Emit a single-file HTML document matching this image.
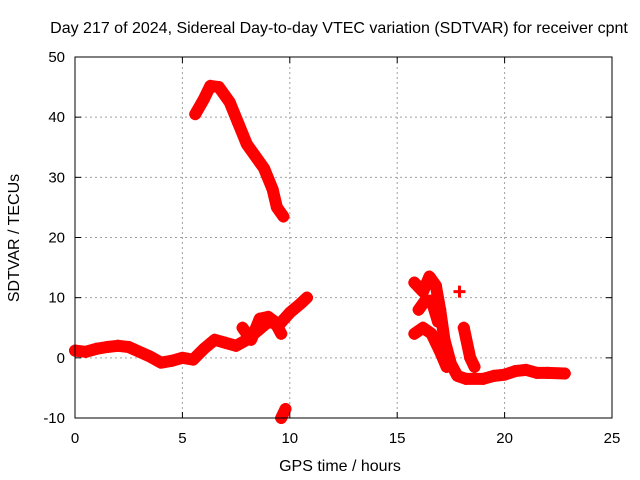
<!DOCTYPE html>
<html><head><meta charset="utf-8"><style>
body{margin:0;background:#fff}
svg{display:block;font-family:"Liberation Sans",sans-serif}
</style></head><body>
<svg id="chart" width="640" height="480" viewBox="0 0 640 480">
<text x="339" y="33" font-size="16" text-anchor="middle">Day 217 of 2024, Sidereal Day-to-day VTEC variation (SDTVAR) for receiver cpnt</text>
<text x="340" y="471" font-size="16" text-anchor="middle">GPS time / hours</text>
<text x="19" y="238" font-size="16" text-anchor="middle" transform="rotate(-90 19 238)">SDTVAR / TECUs</text>
<g id="grid"></g><g id="marks"></g><g id="axes"></g>
</svg>
<script>
const xTicks=[0,5,10,15,20,25];
const yTicks=[-10,0,10,20,30,40,50];
const lowBand=[[0,1.2],[0.5,1.0],[1,1.5],[1.5,1.8],[2,2.0],[2.5,1.8],[3,1.0],[3.5,0.2],[4,-0.8],[4.5,-0.5],[5,0.0],[5.5,-0.3],[6,1.5],[6.5,3.0],[7,2.5],[7.5,2.0],[8,3.0],[8.5,4.5],[9,6.0],[9.5,5.5],[10,7.5],[10.5,9.0],[10.8,10]];
const lowLoop=[[7.8,5],[8.2,3],[8.6,6.5],[9.0,6.8],[9.3,6],[9.6,4]];
const negTrack=[[9.6,-10],[9.8,-8.5]];
const highArc=[[5.6,40.5],[6.0,43],[6.3,45.2],[6.7,45],[7.2,42.5],[7.6,39],[8.0,35.5],[8.4,33.5],[8.8,31.5],[9.2,28],[9.4,25],[9.7,23.5]];
const lateMain=[[15.8,12.5],[16.2,11],[16.5,13.5],[16.8,12],[17.0,8],[17.2,3],[17.5,-1],[17.8,-3],[18.2,-3.5],[19,-3.5],[19.5,-3],[20,-2.8],[20.5,-2.2],[21,-2],[21.5,-2.5],[22,-2.5],[22.8,-2.6]];
const lateLow=[[15.8,4],[16.2,5],[16.6,4],[17.0,1],[17.3,-1.5]];
const lateMid=[[16.0,8],[16.3,9.5],[16.6,9.5],[16.9,6]];
const lateRight=[[18.1,5],[18.4,0],[18.6,-1.5]];
const lateDot=[[17.9,11]];
const series=[lowBand,lowLoop,negTrack,highArc,lateMain,lateLow,lateMid,lateRight,lateDot];
const L=75,R=612,T=57,B=418;
const sx=v=>L+(v-0)/(25-0)*(R-L);
const sy=v=>B-(v+10)/(50+10)*(B-T);
const NS="http://www.w3.org/2000/svg";
function mk(t,a,p){const e=document.createElementNS(NS,t);for(const k in a)e.setAttribute(k,a[k]);p.appendChild(e);return e;}
const grid=document.getElementById('grid'),axes=document.getElementById('axes'),marks=document.getElementById('marks');
xTicks.forEach(v=>{const x=sx(v);
 if(v>0&&v<25){const g=mk('line',{x1:x,x2:x,y1:T,y2:B,stroke:'#a0a0a0','stroke-dasharray':'2,3'},grid);
 }
 const t=mk('line',{x1:x,x2:x,y1:B,y2:B-6,stroke:'#000'},axes);
 
 const tb=mk('line',{x1:x,x2:x,y1:T,y2:T+6,stroke:'#000'},axes);
 
 const l=mk('text',{x:x,y:B+25,'font-size':15,'text-anchor':'middle'},axes);l.textContent=v;
 });
yTicks.forEach(v=>{const y=sy(v);
 if(v>-10&&v<50){const g=mk('line',{x1:L,x2:R,y1:y,y2:y,stroke:'#a0a0a0','stroke-dasharray':'2,3'},grid);
 }
 const t=mk('line',{x1:L,x2:L+6,y1:y,y2:y,stroke:'#000'},axes);
 
 const tr=mk('line',{x1:R,x2:R-6,y1:y,y2:y,stroke:'#000'},axes);
 
 const l=mk('text',{x:L-10,y:y+5,'font-size':15,'text-anchor':'end'},axes);l.textContent=v;
 });
const fr=mk('rect',{x:L,y:T,width:R-L,height:B-T,fill:'none',stroke:'#000'},axes);

series.forEach(s=>{
 const pts=s.map(p=>sx(p[0])+','+sy(p[1])).join(' ');
 const pl=mk('polyline',{points:pts,fill:'none',stroke:'#f00','stroke-width':12,'stroke-linejoin':'round','stroke-linecap':'round'},marks);
 
 s.forEach(p=>{const x=sx(p[0]),y=sy(p[1]);
  const m=mk('path',{d:`M${x-6},${y}h12M${x},${y-6}v12`,stroke:'#f00','stroke-width':3},marks);
  });
});
</script>
</body></html>
